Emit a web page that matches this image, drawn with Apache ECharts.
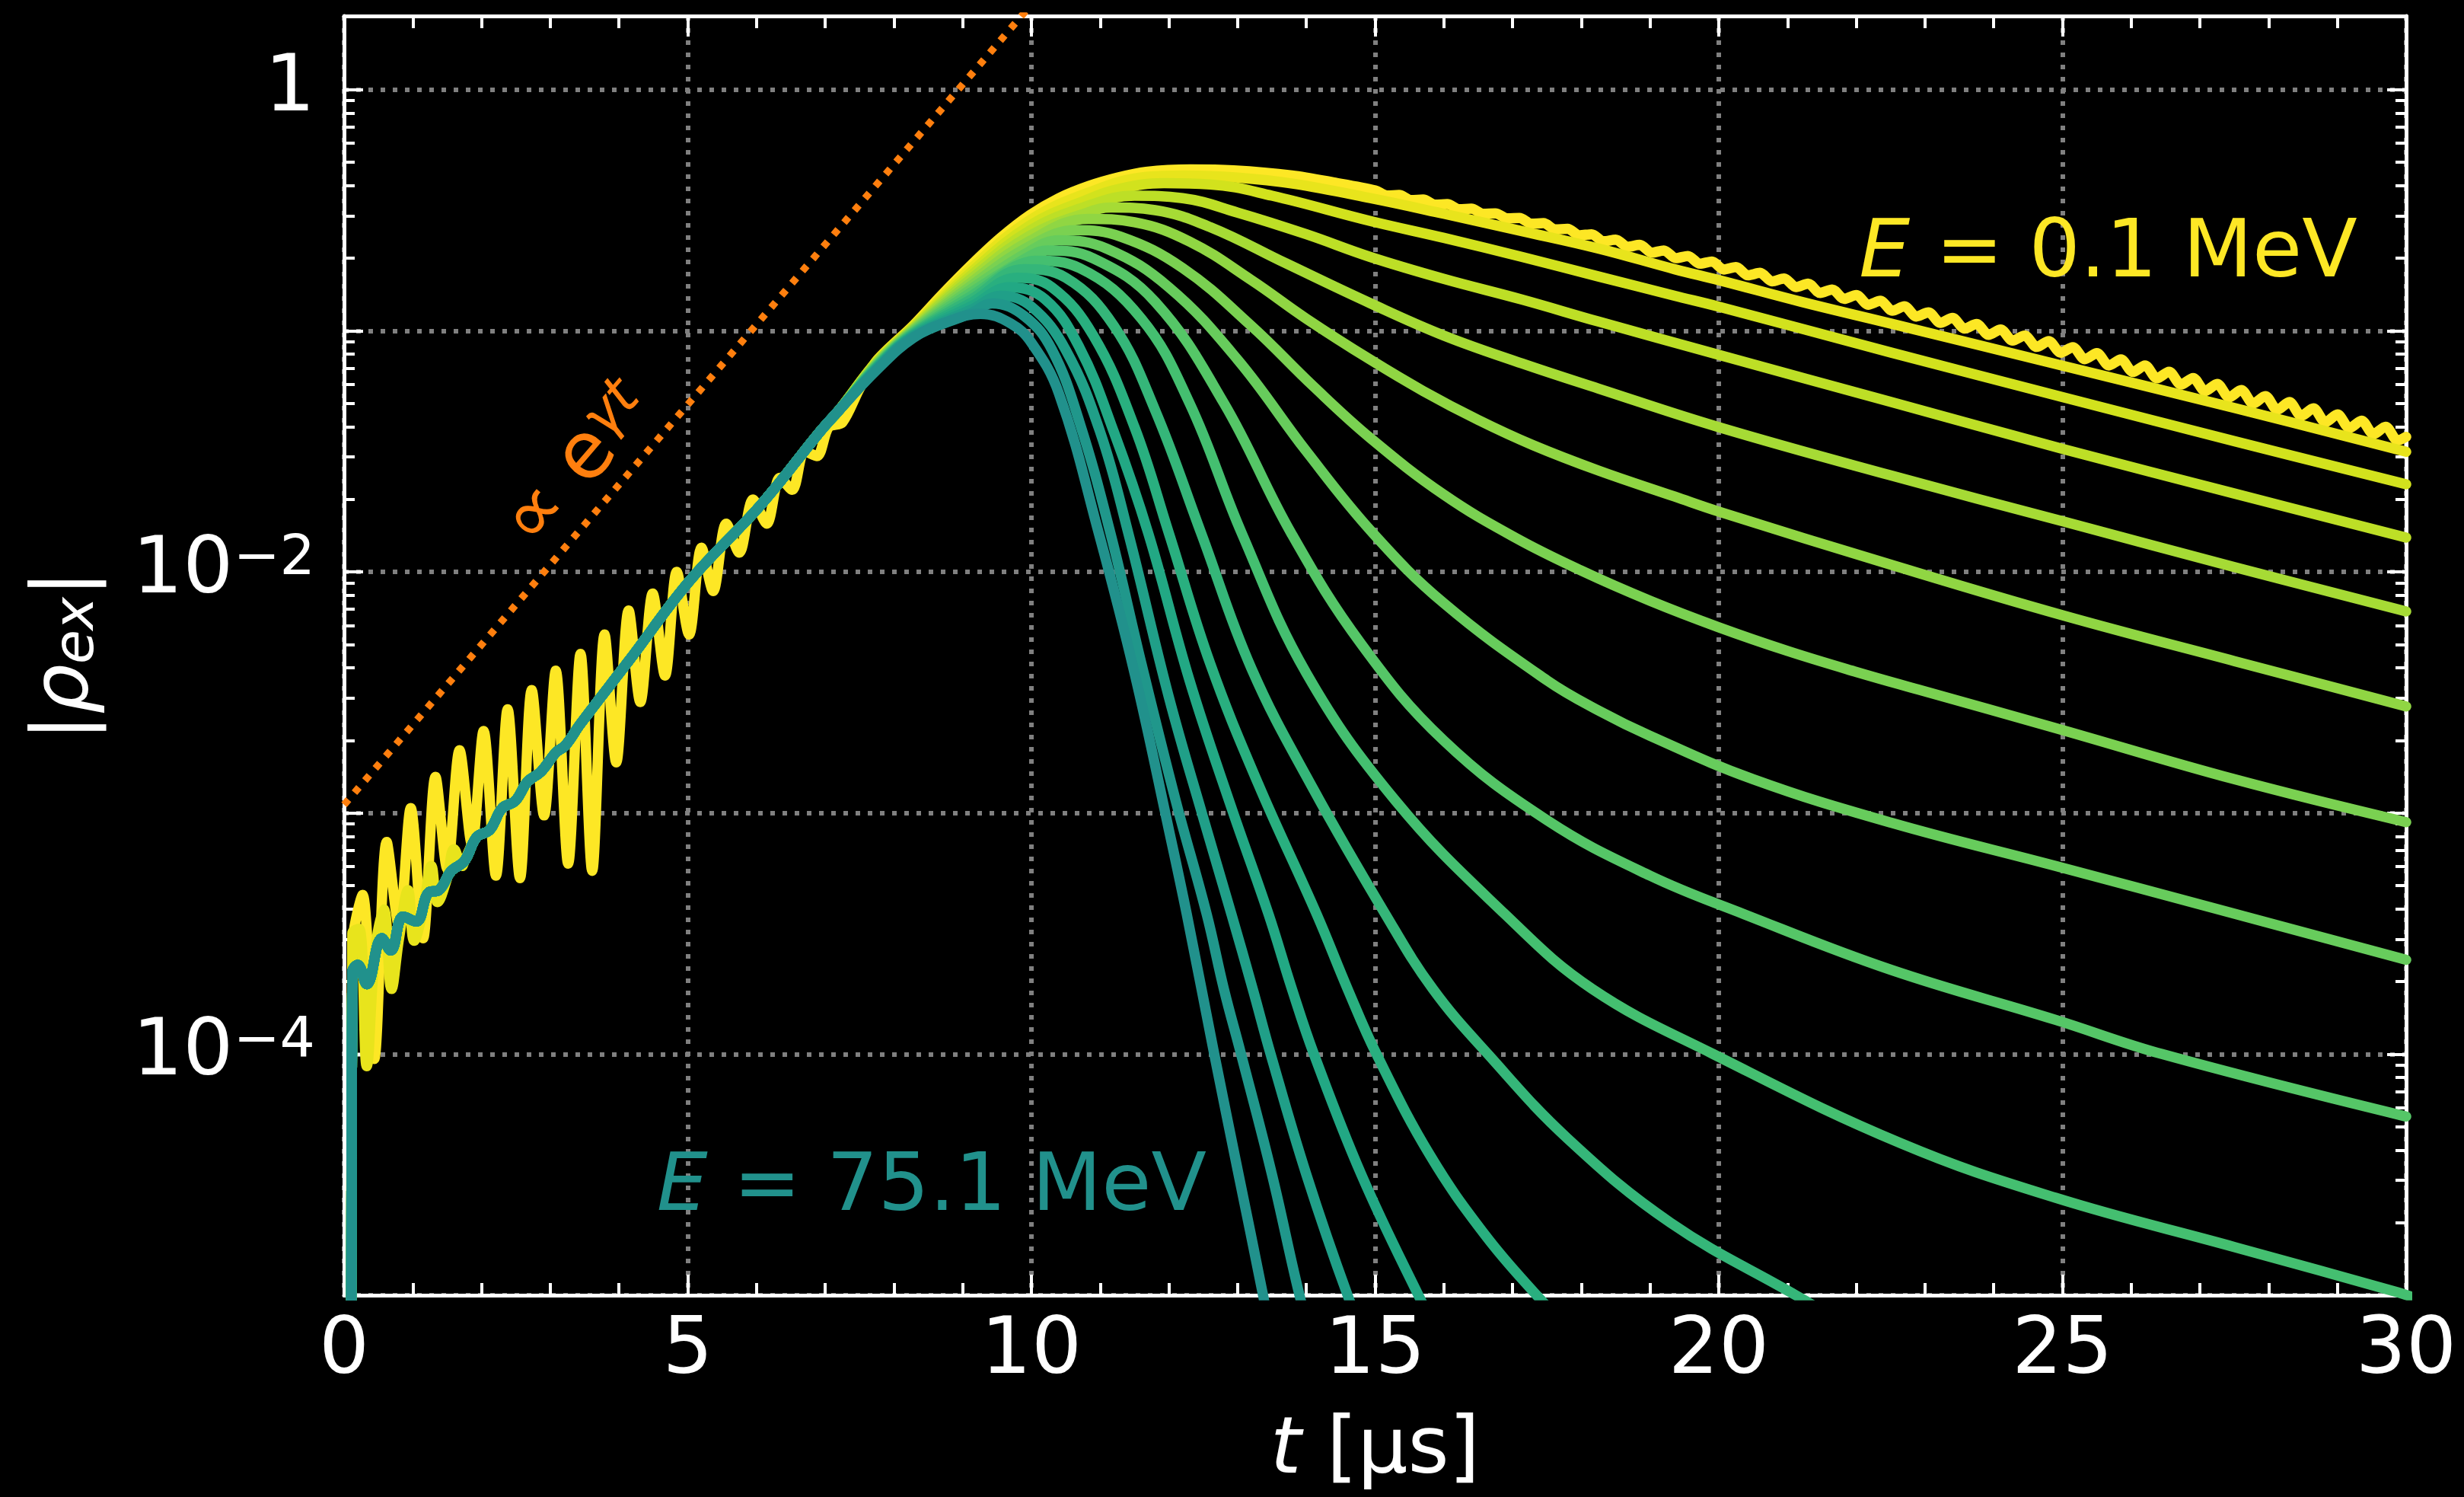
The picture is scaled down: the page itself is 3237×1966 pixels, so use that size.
<!DOCTYPE html>
<html>
<head>
<meta charset="utf-8">
<script src="https://cdn.jsdelivr.net/npm/echarts@6/dist/echarts.min.js"></script>
<style>
  html, body { margin: 0; padding: 0; background: #000; }
  #chart { width: 3237px; height: 1966px; }
</style>
</head>
<body>
<div id="chart"></div>
<script>
// values: [t in us, log10 |rho_ex|]

// E = 0.1 MeV, big early oscillation
const c0Rise = [[0.10,-6],[0.12,-3.55],[0.27,-3.34],[0.44,-4.02],[0.62,-3.12],[0.80,-3.47],[0.97,-2.98],[1.15,-3.52],[1.33,-2.85],[1.50,-3.23],[1.68,-2.74],[1.86,-3.13],[2.03,-2.66],[2.21,-3.26],[2.38,-2.57],[2.56,-3.27],[2.73,-2.49],[2.91,-3.01],[3.08,-2.41],[3.26,-3.21],[3.44,-2.34],[3.61,-3.24],[3.79,-2.26],[3.96,-2.79],[4.14,-2.16],[4.31,-2.54],[4.49,-2.09],[4.67,-2.43],[4.84,-2.0],[5.02,-2.26],[5.2,-1.9],[5.37,-2.08],[5.56,-1.80],[5.75,-1.92],[5.95,-1.70],[6.15,-1.80],[6.34,-1.61],[6.52,-1.66],[6.7,-1.50],[6.88,-1.52],[7.05,-1.40],[7.25,-1.38],[7.5,-1.24],[7.76,-1.12],[8.28,-0.978],[8.7,-0.85],[9.13,-0.726],[9.55,-0.615],[9.98,-0.52],[10.4,-0.45],[10.83,-0.40],[11.25,-0.365],[11.67,-0.341],[12.31,-0.331],[12.94,-0.335],[13.79,-0.356],[14.4,-0.385]];
const c0Tail = [[15.0,-0.418],[15.175,-0.439],[15.35,-0.437],[15.525,-0.458],[15.7,-0.456],[15.875,-0.477],[16.05,-0.475],[16.225,-0.496],[16.4,-0.494],[16.575,-0.515],[16.75,-0.513],[16.925,-0.534],[17.1,-0.532],[17.275,-0.556],[17.45,-0.554],[17.625,-0.580],[17.8,-0.577],[17.975,-0.604],[18.15,-0.600],[18.325,-0.629],[18.5,-0.622],[18.675,-0.652],[18.85,-0.644],[19.025,-0.676],[19.2,-0.667],[19.375,-0.699],[19.55,-0.690],[19.725,-0.722],[19.9,-0.713],[20.075,-0.746],[20.25,-0.736],[20.425,-0.770],[20.6,-0.760],[20.775,-0.795],[20.95,-0.783],[21.125,-0.819],[21.3,-0.805],[21.475,-0.843],[21.65,-0.829],[21.825,-0.868],[22.0,-0.852],[22.175,-0.892],[22.35,-0.876],[22.525,-0.917],[22.7,-0.899],[22.875,-0.941],[23.05,-0.924],[23.225,-0.967],[23.4,-0.947],[23.575,-0.991],[23.75,-0.972],[23.925,-1.017],[24.1,-0.995],[24.275,-1.041],[24.45,-1.020],[24.625,-1.067],[24.8,-1.043],[24.975,-1.091],[25.15,-1.068],[25.325,-1.118],[25.5,-1.093],[25.675,-1.144],[25.85,-1.119],[26.025,-1.171],[26.2,-1.144],[26.375,-1.197],[26.55,-1.170],[26.725,-1.223],[26.9,-1.196],[27.075,-1.250],[27.25,-1.221],[27.425,-1.276],[27.6,-1.246],[27.775,-1.302],[27.95,-1.271],[28.125,-1.328],[28.3,-1.296],[28.475,-1.353],[28.65,-1.322],[28.825,-1.379],[29.0,-1.347],[29.175,-1.404],[29.35,-1.373],[29.525,-1.429],[29.7,-1.398],[29.875,-1.455],[30.0,-1.44]];

// second curve, milder early oscillation
const c1Early = [[0.10,-6],[0.12,-3.50],[0.22,-3.48],[0.33,-4.05],[0.45,-3.58],[0.58,-3.40],[0.69,-3.73],[0.80,-3.52],[0.93,-3.32],[1.02,-3.53],[1.15,-3.40],[1.27,-3.22],[1.36,-3.37],[1.50,-3.27],[1.60,-3.15],[1.72,-3.22]];

// common growth path of the other curves
const sharedEarly = [[0.10,-6],[0.12,-3.66],[0.2,-3.63],[0.33,-3.71],[0.55,-3.52],[0.68,-3.57],[0.86,-3.43],[1.05,-3.45],[1.23,-3.33],[1.38,-3.32],[1.56,-3.24],[1.75,-3.20],[1.93,-3.10],[2.12,-3.07],[2.30,-2.98],[2.49,-2.95],[2.67,-2.87],[2.86,-2.83],[3.08,-2.75],[3.22,-2.72],[3.44,-2.63],[4.14,-2.37],[5.02,-2.04],[6.07,-1.72],[6.92,-1.42],[7.2,-1.33]];

const tail1 = [[7.76,-1.123],[8.28,-0.982],[9.13,-0.740],[9.98,-0.541],[10.83,-0.427],[11.67,-0.362],[12.22,-0.356],[13.0,-0.365],[13.8,-0.39],[14.93,-0.45],[16.0,-0.515],[17.14,-0.587],[18.25,-0.659],[19.36,-0.745],[20.0,-0.79],[21.2,-0.88],[22.5,-0.97],[25.0,-1.145],[27.5,-1.32],[30.0,-1.502]];
const tail2 = [[7.76,-1.125],[8.28,-0.985],[9.13,-0.755],[9.98,-0.563],[10.83,-0.454],[11.3,-0.41],[11.93,-0.388],[12.6,-0.393],[13.5,-0.44],[14.93,-0.545],[16.0,-0.615],[17.14,-0.694],[18.25,-0.775],[19.36,-0.855],[20.0,-0.90],[22.5,-1.09],[25.0,-1.275],[27.5,-1.458],[30.0,-1.637]];
const tail3 = [[7.76,-1.128],[8.28,-0.989],[9.13,-0.769],[9.98,-0.584],[10.83,-0.481],[11.5,-0.44],[12.2,-0.45],[13.0,-0.51],[14.0,-0.60],[14.93,-0.694],[16.0,-0.785],[17.14,-0.871],[18.25,-0.962],[20.0,-1.10],[22.5,-1.295],[25.0,-1.49],[27.5,-1.675],[30.0,-1.858]];
const tail4 = [[7.76,-1.131],[8.28,-0.992],[9.13,-0.783],[9.98,-0.605],[10.83,-0.508],[11.16,-0.489],[11.8,-0.50],[12.6,-0.57],[13.7,-0.72],[14.93,-0.886],[16.0,-1.02],[17.14,-1.136],[18.25,-1.24],[20.0,-1.40],[22.5,-1.60],[25.0,-1.79],[27.5,-1.98],[30.0,-2.164]];
const tail5 = [[7.76,-1.133],[8.28,-0.996],[9.13,-0.798],[9.98,-0.627],[10.83,-0.536],[11.5,-0.55],[12.3,-0.63],[13.2,-0.79],[14.0,-0.95],[14.93,-1.12],[15.7,-1.25],[16.5,-1.37],[17.3,-1.475],[18.25,-1.58],[19.36,-1.688],[20.0,-1.75],[22.5,-1.97],[25.0,-2.18],[27.5,-2.37],[30.0,-2.558]];
const tail6 = [[7.76,-1.136],[8.28,-0.999],[9.13,-0.812],[9.98,-0.648],[10.65,-0.583],[11.3,-0.61],[12.2,-0.74],[13.2,-0.98],[14.1,-1.23],[14.93,-1.445],[16.0,-1.68],[17.05,-1.86],[18.0,-1.995],[19.0,-2.12],[20.0,-2.23],[21.0,-2.328],[22.0,-2.415],[22.9,-2.488],[24.9,-2.648],[27.5,-2.86],[30.0,-3.038]];
const tail7 = [[7.76,-1.139],[8.28,-1.003],[9.13,-0.826],[9.98,-0.669],[10.4,-0.625],[11.1,-0.66],[12.0,-0.82],[13.0,-1.12],[14.0,-1.50],[14.97,-1.84],[16.0,-2.13],[17.5,-2.45],[18.25,-2.575],[19.0,-2.68],[20.5,-2.86],[22.5,-3.04],[24.9,-3.22],[27.4,-3.41],[30.0,-3.609]];
const tail8 = [[7.76,-1.141],[8.28,-1.006],[9.13,-0.84],[9.98,-0.69],[10.23,-0.667],[10.9,-0.70],[11.8,-0.88],[12.8,-1.30],[13.78,-1.84],[14.8,-2.30],[16.0,-2.70],[17.5,-3.03],[19.0,-3.26],[20.37,-3.42],[22.5,-3.65],[24.9,-3.858],[26.45,-4.0],[30.0,-4.259]];
const tail9 = [[7.76,-1.144],[8.28,-1.01],[9.13,-0.855],[9.98,-0.712],[10.07,-0.71],[10.7,-0.74],[11.6,-0.95],[12.3,-1.30],[13.06,-1.84],[14.0,-2.42],[15.3,-2.95],[16.89,-3.42],[18.16,-3.73],[19.92,-4.0],[22.65,-4.37],[24.9,-4.596],[27.5,-4.8],[29.9,-4.99],[30.2,-5.02]];
const tail10 = [[7.76,-1.147],[8.28,-1.013],[9.13,-0.869],[9.89,-0.745],[10.5,-0.78],[11.2,-0.98],[11.8,-1.33],[12.47,-1.84],[13.2,-2.40],[14.1,-2.90],[15.15,-3.42],[15.84,-3.73],[16.64,-4.0],[17.8,-4.35],[19.3,-4.70],[21.12,-5.0],[21.6,-5.08]];
const tail11 = [[7.76,-1.149],[8.28,-1.017],[9.13,-0.883],[9.79,-0.78],[10.3,-0.82],[10.9,-1.02],[11.5,-1.40],[12.0,-1.84],[12.6,-2.38],[13.3,-2.88],[14.15,-3.42],[14.6,-3.73],[15.02,-4.0],[15.8,-4.42],[16.6,-4.75],[17.35,-5.0],[17.7,-5.1]];
const tail12 = [[7.76,-1.152],[8.28,-1.02],[9.13,-0.898],[9.68,-0.82],[10.2,-0.87],[10.7,-1.07],[11.2,-1.42],[11.7,-1.84],[12.3,-2.45],[12.9,-2.97],[13.45,-3.42],[13.79,-3.73],[14.11,-4.0],[14.8,-4.5],[15.63,-5.0],[16.0,-5.2]];
const tail13 = [[7.76,-1.155],[8.28,-1.023],[9.13,-0.912],[9.56,-0.855],[10.0,-0.90],[10.5,-1.08],[11.0,-1.42],[11.41,-1.84],[12.0,-2.52],[12.5,-3.02],[12.91,-3.42],[13.22,-3.73],[13.48,-4.0],[14.0,-4.5],[14.6,-5.0],[14.9,-5.2]];
const tail14 = [[7.76,-1.157],[8.28,-1.027],[9.13,-0.926],[9.43,-0.887],[9.9,-0.94],[10.3,-1.08],[10.7,-1.38],[11.15,-1.84],[11.6,-2.38],[12.1,-2.95],[12.55,-3.42],[12.8,-3.73],[13.05,-4.0],[13.5,-4.5],[13.9,-5.0],[14.1,-5.2]];
const tail15 = [[7.76,-1.16],[8.28,-1.03],[8.8,-0.96],[9.26,-0.93],[9.7,-0.97],[10.0,-1.05],[10.4,-1.26],[10.98,-1.84],[11.5,-2.42],[12.0,-3.07],[12.26,-3.42],[12.66,-4.0],[13.0,-4.48],[13.37,-5.0],[13.5,-5.2]];

// exponential growth guide
const growthLine = [[0, -2.966], [10.2, 0.42]];

const yDecades = [1e-5, 1e-4, 1e-3, 1e-2, 1e-1, 1];
const yLabelValues = [1e-4, 1e-2, 1];
const minorMantissa = [2, 3, 4, 5, 6, 7, 8, 9];

const FONT = 'DejaVu Sans';
const FS = 104;

// viridis 0.50 .. 1.00 in steps of 0.05
const viridisAnchors = ['#21918c','#1f9a8a','#22a884','#2db27d','#44bf70','#5ec962','#7ad151','#9bd93c','#bddf26','#dde318','#fde725'];
function viridis(v) {
  const p = (v - 0.5) / 0.05;
  const i = Math.max(0, Math.min(9, Math.floor(p)));
  const f = p - i;
  const a = viridisAnchors[i], b = viridisAnchors[i + 1];
  const ch = (h, o) => parseInt(h.substr(o, 2), 16);
  const mix = o => Math.round(ch(a, o) + (ch(b, o) - ch(a, o)) * f);
  return 'rgb(' + mix(1) + ',' + mix(3) + ',' + mix(5) + ')';
}

const toPts = arr => arr.map(p => [p[0], Math.pow(10, p[1])]);
const tails = [null, tail1, tail2, tail3, tail4, tail5, tail6, tail7, tail8, tail9, tail10, tail11, tail12, tail13, tail14, tail15];

const curves = tails.map((tail, k) => {
  if (k === 0) return c0Rise.concat(c0Tail);
  let early = sharedEarly;
  if (k === 1) {
    const lastT = c1Early[c1Early.length - 1][0];
    early = c1Early.concat(sharedEarly.filter(p => p[0] > lastT));
  }
  return early.concat(tail);
});

const yMinor = [];
yDecades.slice(0, 5).forEach(d => minorMantissa.forEach(m => yMinor.push(m * d)));

const series = curves.map((c, k) => ({
  type: 'line',
  data: toPts(c),
  showSymbol: false,
  symbol: 'none',
  smooth: k === 0 ? 0.3 : 0.4,
  clip: true,
  silent: true,
  z: 2 + k * 0.01,
  lineStyle: { color: viridis(1 - k / 30), width: 13.5, cap: 'round', join: 'round' }
}));
series.push({
  type: 'line',
  data: toPts(growthLine),
  showSymbol: false,
  symbol: 'none',
  clip: true,
  silent: true,
  z: 3,
  lineStyle: { color: '#ff7f0e', width: 9.5, type: [9, 12], cap: 'butt' }
});

const white = '#ffffff';
const gridLine = { show: true, lineStyle: { color: '#808080', width: 6, type: [6, 10] } };

function xAx(pos, main) {
  return {
    type: 'value', min: 0, max: 30, interval: 5, position: pos,
    axisLine: { show: true, onZero: false, lineStyle: { color: white, width: 5 } },
    axisTick: { show: true, inside: true, length: 27, lineStyle: { color: white, width: 4 } },
    minorTick: { show: true, splitNumber: 5, length: 16, lineStyle: { color: white, width: 4 } },
    axisLabel: main ? { show: true, color: white, fontSize: FS, fontFamily: FONT, margin: 23 } : { show: false },
    splitLine: main ? gridLine : { show: false },
    name: main ? '{i|t} [μs]' : '',
    nameLocation: 'middle',
    nameGap: 154,
    nameTextStyle: {
      color: white, fontSize: FS, fontFamily: FONT,
      rich: { i: { color: white, fontSize: FS, fontFamily: FONT, fontStyle: 'italic' } }
    }
  };
}

function yAx(pos, kind) {
  const major = kind !== 'minor';
  const main = kind === 'main';
  return {
    type: 'log', logBase: 10, min: 1e-5, max: 2.02, position: pos,
    axisLine: { show: major, onZero: false, lineStyle: { color: white, width: 5 } },
    axisTick: {
      show: true, inside: true, length: major ? 25 : 14,
      customValues: major ? yDecades : yMinor,
      lineStyle: { color: white, width: 4 }
    },
    minorTick: { show: false },
    axisLabel: main ? {
      show: true, color: white, fontSize: FS, fontFamily: FONT, margin: 38,
      lineHeight: FS,
      customValues: yLabelValues,
      formatter: v => {
        const e = Math.round(Math.log10(v));
        return e === 0 ? '1' : '10{sup|−' + (-e) + '}';
      },
      rich: { sup: { color: white, fontSize: 73, fontFamily: FONT, lineHeight: 50, verticalAlign: 'top' } }
    } : { show: false },
    splitLine: main ? gridLine : { show: false },
    name: main ? '|{i|ρ}{sub|ex}|' : '',
    nameLocation: 'middle',
    nameRotate: 90,
    nameGap: 312,
    nameTextStyle: {
      color: white, fontSize: FS, fontFamily: FONT, lineHeight: FS,
      rich: {
        i: { color: white, fontSize: FS, fontFamily: FONT, fontStyle: 'italic', lineHeight: FS },
        sub: { color: white, fontSize: 73, fontFamily: FONT, fontStyle: 'italic', lineHeight: 60, verticalAlign: 'bottom' }
      }
    }
  };
}

const chart = echarts.init(document.getElementById('chart'), null, { renderer: 'canvas' });
chart.setOption({
  backgroundColor: '#000000',
  animation: false,
  grid: { left: 452, right: 76, top: 21, bottom: 265, containLabel: false },
  xAxis: [xAx('bottom', true), xAx('top', false)],
  yAxis: [yAx('left', 'main'), yAx('right', 'major'), yAx('right', 'minor'), yAx('left', 'minor')],
  series: series
});

// text annotations anchored in data coordinates
const px = (t, lg) => chart.convertToPixel({ xAxisIndex: 0, yAxisIndex: 0 }, [t, Math.pow(10, lg)]);
const pLow = px(22.04, -0.689);
const pHigh = px(4.55, -4.56);
const pGrow = px(3.42, -1.565);
const AFS = 106;
const italicTok = { fontStyle: 'italic', fontSize: AFS, fontFamily: FONT };
chart.setOption({
  graphic: [
    {
      type: 'text', x: pLow[0], y: pLow[1], z: 100, silent: true,
      style: {
        text: '{i|E} = 0.1 MeV', fill: '#fde725', fontSize: AFS, fontFamily: FONT,
        align: 'left', verticalAlign: 'middle', rich: { i: italicTok }
      }
    },
    {
      type: 'text', x: pHigh[0], y: pHigh[1], z: 100, silent: true,
      style: {
        text: '{i|E} = 75.1 MeV', fill: '#21918c', fontSize: AFS, fontFamily: FONT,
        align: 'left', verticalAlign: 'middle', rich: { i: italicTok }
      }
    },
    {
      type: 'text', x: pGrow[0], y: pGrow[1], z: 100, silent: true,
      rotation: 49.3 * Math.PI / 180,
      style: {
        text: '∝ e{sup|γt}', fill: '#ff7f0e', fontSize: FS, fontFamily: FONT, lineHeight: FS,
        align: 'center', verticalAlign: 'middle',
        rich: { sup: { fontSize: 73, fontFamily: FONT, fontStyle: 'italic', lineHeight: 50, verticalAlign: 'top' } }
      }
    }
  ]
});
window.addEventListener('resize', () => chart.resize());
</script>
</body>
</html>
